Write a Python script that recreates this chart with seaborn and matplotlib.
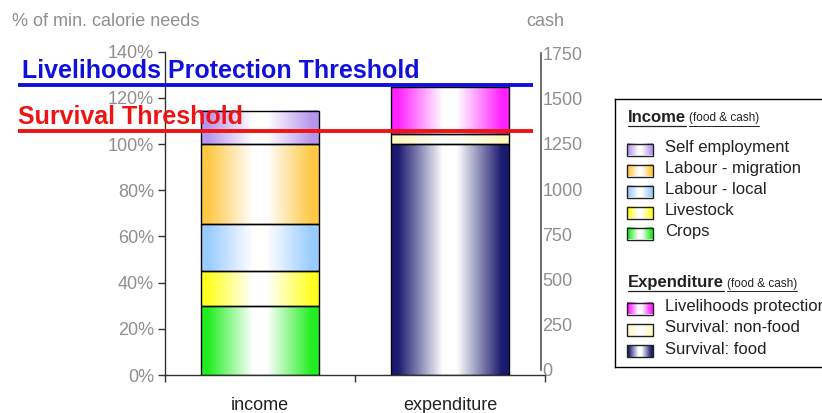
import numpy as np
import pandas as pd
import matplotlib
matplotlib.use("Agg")
import matplotlib.pyplot as plt
import matplotlib.transforms as mtransforms
from matplotlib.colors import to_rgb
from matplotlib.patches import Rectangle
import seaborn as sns

# ---- data -------------------------------------------------------------
groups = ["income", "expenditure"]

income_items = ["Crops", "Livestock", "Labour - local", "Labour - migration", "Self employment"]
income_values = [30, 15, 20.5, 34.5, 14.5]          # % of minimum calorie needs

expenditure_items = ["Survival: food", "Survival: non-food", "Livelihoods protection"]
expenditure_values = [100, 4.5, 20]                 # % of minimum calorie needs

survival_threshold = 105.5
protection_threshold = 125.5

pct_ticks = [0, 20, 40, 60, 80, 100, 120, 140]
cash_ticks = [0, 250, 500, 750, 1000, 1250, 1500, 1750]

item_colors = {
    "Crops": "#22ee22",
    "Livestock": "#ffff22",
    "Labour - local": "#99ccff",
    "Labour - migration": "#ffc845",
    "Self employment": "#b797ee",
    "Survival: food": "#1b1b70",
    "Survival: non-food": "#fff8c0",
    "Livelihoods protection": "#ff22ff",
}

# ---- style ------------------------------------------------------------
sns.set_theme(style="white")
plt.rcParams["font.family"] = ["Liberation Sans", "DejaVu Sans"]
GREY = "#8f8f8f"


def gradient(color, n=256):
    """Colour at both edges fading to white in the middle."""
    x = np.linspace(0, 1, n)
    w = np.clip((np.abs(x - 0.5) - 0.06) / 0.38, 0, 1) ** 1.0
    c = np.array(to_rgb(color))
    rgb = 1 - w[:, None] * (1 - c[None, :])
    return rgb[None, :, :]


fig = plt.figure(figsize=(8.22, 4.13), dpi=100)
W, H = 822, 413

ax = fig.add_axes([165 / W, 38 / H, 380 / W, 323.3 / H])

# stacked bars, one segment at a time
rows = []
for grp, items, vals in [("income", income_items, income_values),
                         ("expenditure", expenditure_items, expenditure_values)]:
    base = 0.0
    for it, v in zip(items, vals):
        rows.append(dict(group=grp, item=it, value=v, base=base))
        base += v
df = pd.DataFrame(rows)

for _, r in df.iterrows():
    sns.barplot(data=df[df["item"] == r["item"]], x="group", y="value", order=groups,
                bottom=r["base"], width=0.62, color=item_colors[r["item"]],
                edgecolor="black", linewidth=1, errorbar=None, ax=ax, zorder=3)
    patch = ax.patches[-1]
    x0, y0 = patch.get_x(), patch.get_y()
    w, h = patch.get_width(), patch.get_height()
    patch.set_facecolor("none")
    ax.imshow(gradient(item_colors[r["item"]]), extent=[x0, x0 + w, y0, y0 + h],
              aspect="auto", interpolation="bilinear", zorder=2)

ax.set_xlim(-0.5, 1.5)
ax.set_ylim(0, 140)
ax.set_xlabel("")
ax.set_ylabel("")
ax.set_facecolor("none")

for s in ["top", "right"]:
    ax.spines[s].set_visible(False)
for s in ["left", "bottom"]:
    ax.spines[s].set_color("#333333")
    ax.spines[s].set_linewidth(1)

ax.set_yticks(pct_ticks)
ax.set_yticklabels([f"{v}%" for v in pct_ticks])
ax.tick_params(axis="y", direction="out", length=5, width=1, color="#333333",
               labelcolor=GREY, labelsize=13, pad=3, left=True)
ax.set_xticks([0, 1])
ax.set_xticklabels(groups)
ax.set_xticks([-0.5, 0.5, 1.5], minor=True)
ax.tick_params(axis="x", which="major", length=0, labelsize=13, labelcolor="#222222", pad=16)
ax.tick_params(axis="x", which="minor", direction="out", length=5, width=1,
               color="#333333", bottom=True)

# threshold lines with their captions
ytrans = ax.get_yaxis_transform()
for val, label, col, x_line, x_text in [
        (protection_threshold, "Livelihoods Protection Threshold", "#1010dd", -0.387, -0.377),
        (survival_threshold, "Survival Threshold", "#ee1414", -0.387, -0.387)]:
    ax.plot([x_line, 0.968], [val, val], transform=ytrans, color=col, lw=2.8,
            clip_on=False, zorder=6, solid_capstyle="butt")
    tt = mtransforms.offset_copy(ytrans, fig=fig, y=7, units="dots")
    ax.text(x_text, val, label, transform=tt, color=col, fontsize=18,
            fontweight="bold", va="baseline", ha="left", zorder=7, clip_on=False)

# cash scale
axc = fig.add_axes([540.5 / W, 43 / H, 0.0005, 316.5 / H])
axc.set_ylim(0, 1750)
axc.set_facecolor("none")
for s in ["top", "right", "bottom"]:
    axc.spines[s].set_visible(False)
axc.spines["left"].set_color("#555555")
axc.spines["left"].set_linewidth(1.2)
axc.set_xticks([])
axc.yaxis.tick_right()
axc.set_yticks(cash_ticks)
axc.set_yticklabels([str(v) for v in cash_ticks])
axc.tick_params(axis="y", length=0, pad=1, labelcolor=GREY, labelsize=13)

fig.text(12 / W, 1 - 22 / H, "% of min. calorie needs", color=GREY, fontsize=13,
         va="center", ha="left")
fig.text(545 / W, 1 - 22 / H, "cash", color=GREY, fontsize=13, va="center", ha="center")

# legend panel
lg = fig.add_axes([615 / W, (H - 367) / H, 230 / W, 268 / H])
lg.set_xlim(0, 230)
lg.set_ylim(268, 0)
lg.set_xticks([])
lg.set_yticks([])
for s in lg.spines.values():
    s.set_color("black")
    s.set_linewidth(1)
lg.set_facecolor("white")


def swatch(y, color):
    lg.imshow(gradient(color), extent=[12, 38, y + 6, y - 6], aspect="auto",
              interpolation="bilinear", zorder=2)
    lg.add_patch(Rectangle((12, y - 6), 26, 12, fill=False, edgecolor="#222222",
                           lw=1, zorder=3))


sections = [
    ("Income", 18.5, list(reversed(income_items)), 50.5, 21.0),
    ("Expenditure", 183.5, list(reversed(expenditure_items)), 209.5, 21.4),
]
fig.canvas.draw()
renderer = fig.canvas.get_renderer()
for title, ty, items, y0, step in sections:
    t1 = lg.text(13, ty, title, fontsize=12, fontweight="bold", color="#222222",
                 va="center", ha="left")
    bb = t1.get_window_extent(renderer).transformed(lg.transData.inverted())
    t2 = lg.text(bb.x1 + 3, ty + 1, "(food & cash)", fontsize=8.5, color="#222222",
                 va="center", ha="left")
    bb2 = t2.get_window_extent(renderer).transformed(lg.transData.inverted())
    lg.plot([13, bb.x1], [ty + 8, ty + 8], color="#222222", lw=0.9)
    lg.plot([bb.x1 + 3, bb2.x1], [ty + 8, ty + 8], color="#222222", lw=0.7)
    for i, it in enumerate(items):
        y = y0 + step * i
        swatch(y, item_colors[it])
        lg.text(50, y - 2, it, fontsize=12, color="#222222", va="center", ha="left")
lg.set_xlim(0, 230)
lg.set_ylim(268, 0)

fig.savefig("out.png", dpi=100)
